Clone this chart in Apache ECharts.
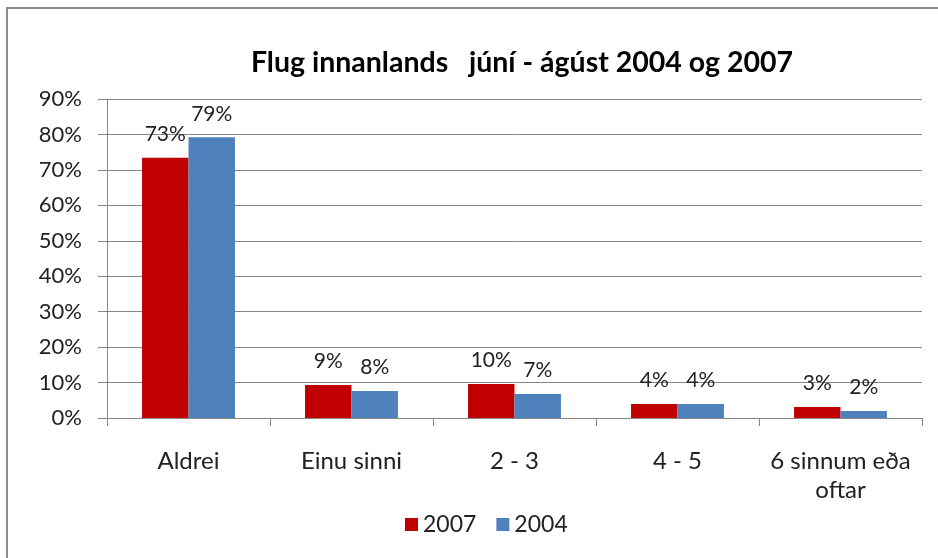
<!DOCTYPE html>
<html><head><meta charset="utf-8">
<script src="https://cdn.jsdelivr.net/npm/echarts@6/dist/echarts.min.js"></script>
<style>
html,body{margin:0;padding:0;background:#fff;}
#c{width:938px;height:558px;}
</style></head>
<body><div id="c"></div>
<script>
const categories = ['Aldrei', 'Einu sinni', '2 - 3', '4 - 5', '6 sinnum eða\noftar'];
const values2007 = [73.4, 9.3, 9.6, 3.95, 3.1];
const values2004 = [79.2, 7.6, 6.8, 3.95, 2.0];
const yTicks = [0, 10, 20, 30, 40, 50, 60, 70, 80, 90];

const FONT = 'Lato, "Open Sans", sans-serif';
const chart = echarts.init(document.getElementById('c'), null, {renderer: 'canvas'});
const labelOpt = {
  show: true, position: 'top', distance: 13,
  color: '#222', fontFamily: FONT, fontSize: 21,
  formatter: p => Math.round(p.value) + '%'
};
chart.setOption({
  animation: false,
  backgroundColor: '#fff',
  graphic: [{
    type: 'polyline', silent: true,
    shape: {points: [[7, 560], [7, 8], [940, 8]]},
    style: {stroke: '#8c8c8c', lineWidth: 2, fill: null}
  }],
  title: {
    text: 'Flug innanlands   júní - ágúst 2004 og 2007',
    left: 517, textAlign: 'center', top: 43,
    textStyle: {fontFamily: FONT, fontSize: 28.5, fontWeight: 'bold', color: '#000'}
  },
  legend: {
    data: ['2007', '2004'], top: 508, left: 400,
    itemWidth: 13, itemHeight: 13, itemGap: 20, icon: 'rect',
    textStyle: {fontFamily: FONT, fontSize: 23, color: '#222'}
  },
  grid: {left: 107, right: 16, top: 99, bottom: 140, containLabel: false},
  xAxis: {
    type: 'category', data: categories,
    axisLine: {lineStyle: {color: '#868686', width: 1}},
    axisTick: {show: true, length: 8, alignWithLabel: false, lineStyle: {color: '#868686'}},
    axisLabel: {fontFamily: FONT, fontSize: 24, color: '#222', margin: 29, lineHeight: 29, interval: 0}
  },
  yAxis: {
    type: 'value', min: 0, max: 90, interval: 10,
    axisLine: {show: true, lineStyle: {color: '#868686'}},
    axisTick: {show: true, length: 9, lineStyle: {color: '#868686'}},
    splitLine: {lineStyle: {color: '#868686', width: 1}},
    axisLabel: {fontFamily: FONT, fontSize: 22, color: '#222', margin: 25,
      formatter: v => yTicks.includes(v) ? v + '%' : ''}
  },
  series: [
    {name: '2007', type: 'bar', data: values2007, barGap: '0%', barCategoryGap: '43%',
      itemStyle: {color: '#C00000'}, label: labelOpt},
    {name: '2004', type: 'bar', data: values2004, barGap: '0%', barCategoryGap: '43%',
      itemStyle: {color: '#4F81BD'}, label: labelOpt}
  ]
});
</script></body></html>
